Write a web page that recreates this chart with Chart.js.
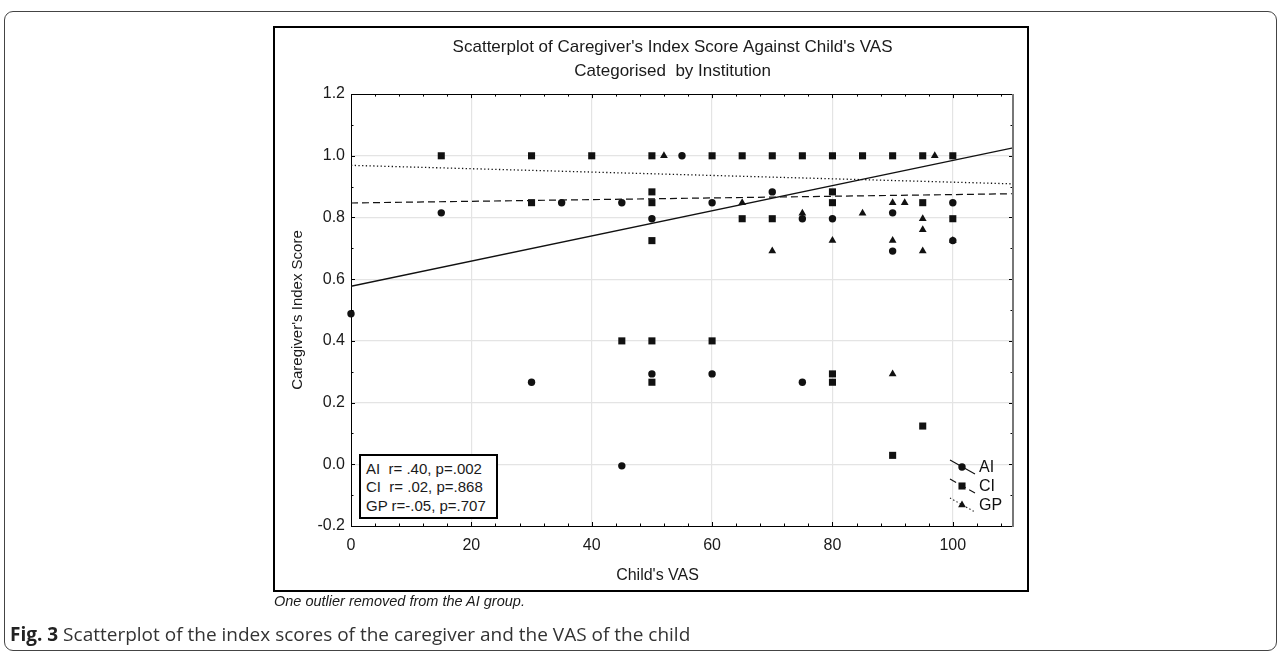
<!DOCTYPE html>
<html>
<head>
<meta charset="utf-8">
<script src="https://cdn.jsdelivr.net/npm/chart.js@4.4.1/dist/chart.umd.min.js"></script>
<style>
  html, body { margin: 0; padding: 0; background: #fff; }
  body { width: 1281px; height: 653px; position: relative; overflow: hidden; font-family: 'Liberation Sans', Arial, sans-serif; color: #1a1a1a; }
  #frame { position: absolute; left: 4px; top: 11px; width: 1273px; height: 640px; box-sizing: border-box; border: 1.5px solid #444; border-radius: 9px; }
  #box { position: absolute; left: 273px; top: 26px; width: 756px; height: 566px; box-sizing: border-box; border: 2px solid #000; }
  #chart { position: absolute; left: 0; top: 0; }
  #stats { position: absolute; left: 359px; top: 454px; width: 139px; height: 65px; box-sizing: border-box; border: 2px solid #000; background: #fff; font-size: 15px; line-height: 18.3px; padding: 4px 0 0 5px; white-space: pre; }
  #note { position: absolute; left: 274px; top: 593px; font-size: 14.5px; line-height: 17px; font-style: italic; white-space: nowrap; }
  #caption { position: absolute; left: 10px; top: 622px; font-family: 'Open Sans', sans-serif; font-size: 19px; line-height: 24px; color: #333; white-space: nowrap; }
  #caption b { color: #222; }
</style>
</head>
<body>
<div id="frame"></div>
<div id="box"></div>
<canvas id="chart" width="1281" height="653"></canvas>
<div id="stats"></div>
<div id="note">One outlier removed from the AI group.</div>
<div id="caption"><b>Fig. 3</b> Scatterplot of the index scores of the caregiver and the VAS of the child</div>
<script>
// axis ticks
const xTickValues = [0, 20, 40, 60, 80, 100];
const yTickValues = [-0.2, 0.0, 0.2, 0.4, 0.6, 0.8, 1.0, 1.2];

// AI group (circles)
const aiX = [0, 15, 30, 35, 45, 45, 50, 50, 55, 60, 60, 70, 75, 75, 80, 90, 90, 100, 100];
const aiY = [0.488, 0.815, 0.266, 0.848, 0.848, -0.005, 0.796, 0.293, 1.0, 0.848, 0.293, 0.883, 0.796, 0.266, 0.796, 0.815, 0.691, 0.848, 0.725];

// CI group (squares)
const ciX = [15, 30, 30, 40, 45, 50, 50, 50, 50, 50, 50, 60, 60, 65, 65, 70, 70, 75, 80, 80, 80, 80, 80, 85, 90, 90, 95, 95, 95, 100, 100];
const ciY = [1.0, 1.0, 0.848, 1.0, 0.4, 1.0, 0.883, 0.848, 0.725, 0.4, 0.266, 1.0, 0.4, 1.0, 0.796, 1.0, 0.796, 1.0, 1.0, 0.883, 0.848, 0.293, 0.266, 1.0, 1.0, 0.029, 1.0, 0.848, 0.124, 1.0, 0.796];

// GP group (triangles)
const gpX = [52, 65, 70, 75, 80, 85, 90, 92, 90, 90, 95, 95, 95, 97, 100];
const gpY = [1.0, 0.848, 0.691, 0.814, 0.725, 0.814, 0.848, 0.848, 0.725, 0.293, 0.796, 0.760, 0.691, 1.0, 0.725];

// fitted regression lines, evaluated at the ends of the x axis
const fitX = [0, 110];
const aiFit = [0.577, 1.026];
const ciFit = [0.847, 0.877];
const gpFit = [0.969, 0.909];

const groupLabels = ['AI', 'CI', 'GP'];
const statLines = ['AI  r= .40, p=.002', 'CI  r= .02, p=.868', 'GP r=-.05, p=.707'];

document.getElementById('stats').textContent = statLines.join('\n');

function pairs(xs, ys) {
    return xs.map((x, i) => ({ x: x, y: ys[i] }));
}

const ink = '#111';
const tickFont = { family: "'Liberation Sans', Arial, sans-serif", size: 16 };

const pointSets = [
    { label: 'AI', data: pairs(aiX, aiY), pointStyle: 'circle', pointRadius: 3.7 },
    { label: 'CI', data: pairs(ciX, ciY), pointStyle: 'rect', pointRadius: 5 },
    { label: 'GP', data: pairs(gpX, gpY), pointStyle: 'triangle', pointRadius: 4.5 }
].map(d => Object.assign(d, {
    backgroundColor: ink, borderColor: ink, pointBorderWidth: 0, showLine: false, clip: false
}));

const fitSets = [
    { label: 'AI fit', data: pairs(fitX, aiFit), borderDash: [], borderWidth: 1.3 },
    { label: 'CI fit', data: pairs(fitX, ciFit), borderDash: [7, 4], borderWidth: 1.2 },
    { label: 'GP fit', data: pairs(fitX, gpFit), borderDash: [1.3, 2.4], borderWidth: 1.3 }
].map(d => Object.assign(d, {
    type: 'line', borderColor: ink, pointRadius: 0, fill: false, tension: 0
}));

// inward ticks on all four sides, plus top and right frame lines
const frameTicks = {
    id: 'frameTicks',
    afterDraw(chart) {
        const { ctx, chartArea: a, scales } = chart;
        const sx = scales.x, sy = scales.y;
        ctx.save();
        ctx.strokeStyle = '#000';
        ctx.lineWidth = 1;
        ctx.beginPath();
        for (let v = 4; v < 110; v += 4) {
            const px = Math.round(sx.getPixelForValue(v)) + 0.5;
            const len = v % 20 === 0 ? 4 : 2.5;
            ctx.moveTo(px, a.bottom); ctx.lineTo(px, a.bottom - len);
            ctx.moveTo(px, a.top); ctx.lineTo(px, a.top + len);
        }
        for (let k = -1; k < 12; k++) {
            const py = Math.round(sy.getPixelForValue(k / 10)) + 0.5;
            const len = k % 2 === 0 ? 4 : 2.5;
            ctx.moveTo(a.left, py); ctx.lineTo(a.left + len, py);
            ctx.moveTo(a.right, py); ctx.lineTo(a.right - len, py);
        }
        ctx.moveTo(a.left, Math.round(a.top) + 0.5);
        ctx.lineTo(a.right, Math.round(a.top) + 0.5);
        ctx.stroke();
        ctx.strokeStyle = '#777';
        ctx.lineWidth = 2;
        ctx.beginPath();
        ctx.moveTo(a.right, a.top);
        ctx.lineTo(a.right, a.bottom + 1);
        ctx.stroke();

        // legend in the lower right corner
        ctx.font = "16px 'Liberation Sans', Arial, sans-serif";
        ctx.textBaseline = 'middle';
        ctx.textAlign = 'left';
        ctx.fillStyle = ink;
        const rowY = [a.bottom - 59, a.bottom - 40, a.bottom - 21];
        groupLabels.forEach((lab, i) => {
            const pset = chart.data.datasets[i];
            const fset = chart.data.datasets[i + 3];
            const cy = rowY[i];
            const cx = a.right - 51;
            ctx.save();
            ctx.strokeStyle = ink;
            ctx.lineWidth = 1.1;
            ctx.setLineDash(fset.borderDash);
            ctx.beginPath();
            ctx.moveTo(cx - 12, cy - 7);
            ctx.lineTo(cx + 13, cy + 7);
            ctx.stroke();
            ctx.restore();
            Chart.helpers.drawPoint(ctx, {
                pointStyle: pset.pointStyle, radius: pset.pointRadius, borderWidth: 0, rotation: 0
            }, cx, cy);
            ctx.fillText(lab, a.right - 34, cy + 1);
        });
        ctx.restore();
    }
};

new Chart(document.getElementById('chart'), {
    type: 'scatter',
    data: { datasets: pointSets.concat(fitSets) },
    options: {
        responsive: false,
        animation: false,
        devicePixelRatio: 1,
        layout: { padding: { left: 274, right: 268, top: 27, bottom: 67 } },
        plugins: {
            legend: { display: false },
            tooltip: { enabled: false },
            title: {
                display: true,
                fullSize: false,
                text: ["Scatterplot of Caregiver's Index Score Against Child's VAS\u00a0\u00a0\u00a0\u00a0",
                       'Categorised  by Institution\u00a0\u00a0\u00a0\u00a0'],
                color: '#1a1a1a',
                font: { family: "'Liberation Sans', Arial, sans-serif", size: 17, weight: 'normal', lineHeight: 1.37 },
                padding: { top: 9, bottom: 11.5 }
            }
        },
        scales: {
            x: {
                type: 'linear',
                min: 0,
                max: 110,
                afterBuildTicks: s => { s.ticks = xTickValues.map(v => ({ value: v })); },
                afterFit: s => { s.height = 60; },
                ticks: { font: tickFont, color: '#1a1a1a', padding: 10, maxRotation: 0, autoSkip: false },
                grid: {
                    drawTicks: false,
                    lineWidth: 1.2,
                    color: c => (c.tick && c.tick.value === 0 ? 'rgba(0,0,0,0)' : '#e4e4e4')
                },
                border: { color: '#000', width: 1 },
                title: {
                    display: true,
                    text: "Child's VAS" + '\u00a0'.repeat(11),
                    color: '#1a1a1a',
                    font: { family: "'Liberation Sans', Arial, sans-serif", size: 16, lineHeight: 1.2 },
                    padding: { top: 0, bottom: 1 }
                }
            },
            y: {
                type: 'linear',
                min: -0.2,
                max: 1.2,
                afterBuildTicks: s => { s.ticks = yTickValues.map(v => ({ value: v })); },
                afterFit: s => { s.width = 77; },
                ticks: {
                    font: tickFont, color: '#1a1a1a', padding: 6,
                    callback: v => Number(v).toFixed(1)
                },
                grid: {
                    drawTicks: false,
                    lineWidth: 1.2,
                    color: c => {
                        const v = c.tick ? c.tick.value : null;
                        return (v === -0.2 || v === 1.2) ? 'rgba(0,0,0,0)' : '#e4e4e4';
                    }
                },
                border: { color: '#000', width: 1 },
                title: {
                    display: true,
                    text: "Caregiver's Index Score",
                    color: '#1a1a1a',
                    font: { family: "'Liberation Sans', Arial, sans-serif", size: 15, lineHeight: 1.2 },
                    padding: { top: 15, bottom: 0 }
                }
            }
        }
    },
    plugins: [frameTicks]
});
</script>
</body>
</html>
